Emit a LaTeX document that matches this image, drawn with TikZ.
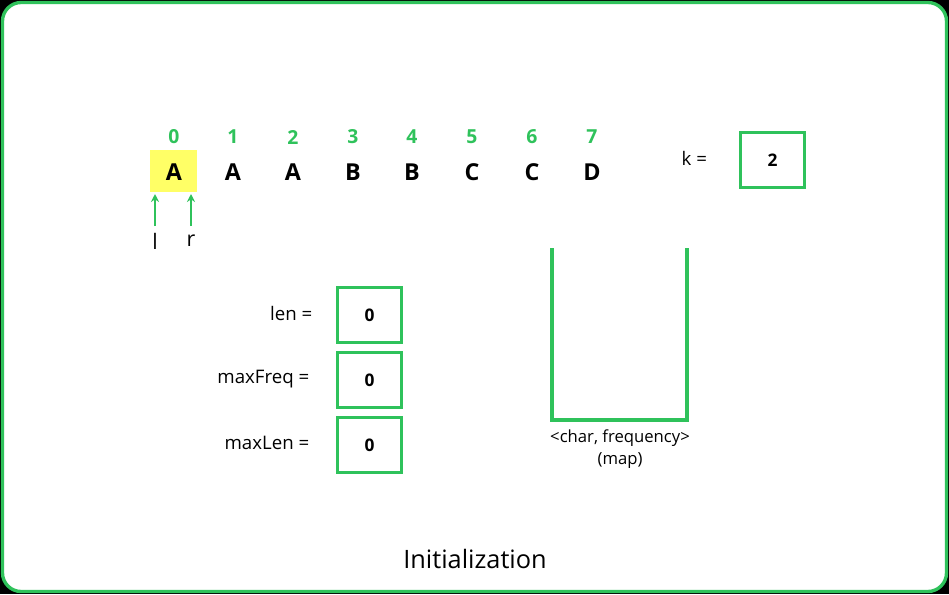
\documentclass[tikz,border=0pt]{standalone}
\usepackage{fontspec}
\usetikzlibrary{arrows.meta}
\setmainfont{Open Sans}
\definecolor{gg}{HTML}{2FC25B}
\definecolor{yl}{HTML}{FFFF66}
\begin{document}
\begin{tikzpicture}[x=0.75pt,y=-0.75pt,
  idx/.style={text=gg,font=\bfseries\fontsize{14.5}{16}\selectfont},
  let/.style={font=\bfseries\fontsize{17.5}{20}\selectfont},
  val/.style={draw=gg,line width=2.2pt,minimum width=48pt,minimum height=41pt,font=\bfseries\fontsize{13}{15}\selectfont},
  lab/.style={font=\fontsize{14}{17}\selectfont},
  arr/.style={draw=gg,line width=1.8pt,-{Stealth[length=6pt,width=6pt]}}]
\useasboundingbox (0,0) rectangle (949,594);
\fill[black] (0,0) rectangle (949,594);
\draw[gg,fill=white,line width=2.5pt,rounded corners=14pt] (2.5,2.5) rectangle (946.5,591.5);
\fill[yl] (150,150) rectangle (197,192);
\foreach \x/\c [count=\i from 0] in {174/A,233/A,293/A,353/B,412/B,472/C,532/C,592/D}{
  \node[idx] (i\i) at (\x,137) {\i};
  \node[let] (c\i) at (\x,172) {\c};
}
\node[font=\fontsize{16}{19}\selectfont] (l) at (155,241) {l};
\node[font=\fontsize{16}{19}\selectfont] (r) at (191,241) {r};
\coordinate (la) at (155,194);
\coordinate (ra) at (191,194);
\coordinate (ls) at (155,226);
\coordinate (rs) at (191,226);
\draw[arr] (ls) -- (la);
\draw[arr] (rs) -- (ra);
\node[lab,anchor=west] (k) at (677,158) {k =};
\node[val] (kv) at (772.5,160) {2};
\node[val] (v1) at (369.5,315) {0};
\node[val] (v2) at (369.5,380) {0};
\node[val] (v3) at (369.5,445) {0};
\node[lab,anchor=east] (t1) at (317,313) {len =};
\node[lab,anchor=east] (t2) at (314,379) {maxFreq =};
\node[lab,anchor=east] (t3) at (314,443) {maxLen =};
\draw[gg,line width=3pt] (552,248) -- (552,420) -- (687,420) -- (687,248);
\node[font=\fontsize{12.5}{15}\selectfont] (m1) at (620,438) {<char, frequency>};
\node[font=\fontsize{12.5}{15}\selectfont] (m2) at (620,461) {(map)};
\node[font=\fontsize{19}{22}\selectfont] (title) at (475,559) {Initialization};
\end{tikzpicture}
\end{document}
